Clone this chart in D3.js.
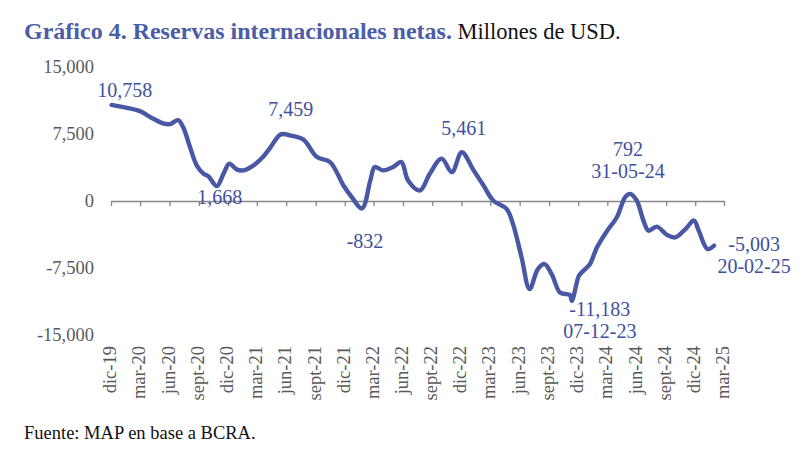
<!DOCTYPE html>
<html>
<head>
<meta charset="utf-8">
<script src="https://cdn.jsdelivr.net/npm/d3@7"></script>
<style>
  body { margin: 0; background: #fff; }
  svg { display: block; }
</style>
</head>
<body>
<div class="chart-div"></div>
<script>
//--------------------------- Data

var dates = [
  "2019-12-03", "2020-02-20", "2020-03-05", "2020-04-10", "2020-05-12", "2020-06-02", "2020-06-28",
  "2020-07-13", "2020-08-04", "2020-08-25", "2020-09-15", "2020-10-01", "2020-10-27", "2020-11-17",
  "2020-12-05", "2020-12-28", "2021-01-18", "2021-02-19", "2021-03-20", "2021-04-10", "2021-05-15",
  "2021-06-12", "2021-07-24", "2021-09-05", "2021-10-16", "2021-11-27", "2021-12-23", "2022-01-24",
  "2022-02-19", "2022-03-05", "2022-03-31", "2022-05-01", "2022-05-27", "2022-06-17", "2022-07-24",
  "2022-08-24", "2022-09-30", "2022-11-01", "2022-12-02", "2023-01-08", "2023-02-08", "2023-03-10",
  "2023-04-21", "2023-05-11", "2023-06-07", "2023-07-02", "2023-07-28", "2023-08-18", "2023-09-09",
  "2023-10-05", "2023-10-26", "2023-11-05", "2023-11-11", "2023-12-01", "2023-12-07", "2023-12-28",
  "2024-01-07", "2024-01-29", "2024-03-01", "2024-03-31", "2024-04-26", "2024-05-11", "2024-06-01",
  "2024-06-22", "2024-07-08", "2024-08-03", "2024-09-04", "2024-09-30", "2024-11-01", "2024-11-27",
  "2024-12-12", "2025-01-08", "2025-01-29"
];

var reserves = [
  10758, 10170, 9980, 9240, 8680, 8600, 9050,
  8300, 6050, 3990, 3060, 2750, 1668, 3060,
  4180, 3540, 3430, 3990, 4920, 5870, 7459,
  7350, 6900, 4920, 4360, 1740, 430, -832,
  2300, 3800, 3430, 3800, 4360, 2300, 1180,
  3060, 4740, 3240, 5461, 3430, 1740, 60,
  -880, -2560, -6320, -9870, -7620, -7060, -8180,
  -10250, -10430, -10510, -11183, -8560, -8180, -7440,
  -7060, -5190, -3320, -1820, 430, 792, 60,
  -2190, -3320, -2870, -3800, -4070, -3120, -2190,
  -3320, -5370, -5003
];

var tickDates = [
  "2019-12-01", "2020-03-01", "2020-06-01", "2020-09-01", "2020-12-01", "2021-03-01", "2021-06-01",
  "2021-09-01", "2021-12-01", "2022-03-01", "2022-06-01", "2022-09-01", "2022-12-01", "2023-03-01",
  "2023-06-01", "2023-09-01", "2023-12-01", "2024-03-01", "2024-06-01", "2024-09-01", "2024-12-01",
  "2025-03-01"
];
var tickLabels = [
  "dic-19", "mar-20", "jun-20", "sept-20", "dic-20", "mar-21", "jun-21",
  "sept-21", "dic-21", "mar-22", "jun-22", "sept-22", "dic-22", "mar-23",
  "jun-23", "sept-23", "dic-23", "mar-24", "jun-24", "sept-24", "dic-24",
  "mar-25"
];

var yTicks = [-15000, -7500, 0, 7500, 15000];

// highlighted points: index into the series, date text under the value
var highlightIndex = [0, 12, 20, 27, 38, 61, 52, 72];
var highlightDate  = ["", "", "", "", "", "31-05-24", "07-12-23", "20-02-25"];

//--------------------------- SVG definition

var width = 800;
var height = 461;

var svg = d3.select("div.chart-div")
  .append("svg")
  .attr("width", width)
  .attr("height", height);

var parse = d3.timeParse("%Y-%m-%d");
var fmt = d3.formatLocale({ decimal: ".", thousands: ",", grouping: [3], currency: ["$", ""], minus: "-" }).format(",");

var blue = "#4858a4";
var labelBlue = "#3e51a0";
var grey = "#595959";
var serif = "'Liberation Serif', 'DejaVu Serif', serif";

//--------------------------- Scales

var x = d3.scaleTime()
  .domain([parse("2019-12-01"), parse("2025-03-01")])
  .range([111, 724]);

var y = d3.scaleLinear()
  .domain([-15000, 15000])
  .range([335, 67]);

//--------------------------- Title

var title = svg.append("text")
  .attr("x", 24)
  .attr("y", 39)
  .attr("font-family", serif)
  .attr("font-size", 24);

title.append("tspan")
  .attr("font-weight", "bold")
  .attr("fill", "#4a5da6")
  .text("Gráfico 4. Reservas internacionales netas.");

title.append("tspan")
  .attr("fill", "#111")
  .attr("font-size", 22.5)
  .text(" Millones de USD.");

//--------------------------- Y axis (labels only)

var yAxis = svg.append("g")
  .attr("transform", "translate(94,0)")
  .call(d3.axisLeft(y).tickValues(yTicks).tickSize(0).tickPadding(0).tickFormat(fmt));

yAxis.select(".domain").remove();
yAxis.selectAll("text")
  .attr("font-family", serif)
  .attr("font-size", 18.5)
  .attr("fill", grey);

//--------------------------- X axis at zero

var xAxis = svg.append("g")
  .attr("transform", "translate(0," + y(0) + ")")
  .call(d3.axisBottom(x).tickValues(tickDates.map(parse)).tickSize(5).tickSizeOuter(0).tickFormat(""));

xAxis.select(".domain").attr("stroke", "#868686").attr("stroke-width", 1.3);
xAxis.selectAll(".tick line").attr("stroke", "#868686").attr("stroke-width", 1.3);

//--------------------------- X tick labels at the bottom, rotated

svg.append("g").selectAll("text")
  .data(tickDates)
  .enter()
  .append("text")
  .attr("transform", function (d) { return "translate(" + (x(parse(d)) + 5) + ",346) rotate(-90)"; })
  .attr("text-anchor", "end")
  .attr("font-family", serif)
  .attr("font-size", 18.5)
  .attr("fill", grey)
  .text(function (d, i) { return tickLabels[i]; });

//--------------------------- Line

var points = dates.map(function (d, i) { return [parse(d), reserves[i]]; });

var line = d3.line()
  .x(function (d) { return x(d[0]); })
  .y(function (d) { return y(d[1]); })
  .curve(d3.curveCatmullRom.alpha(0.5));

svg.append("path")
  .datum(points)
  .attr("d", line)
  .attr("fill", "none")
  .attr("stroke", blue)
  .attr("stroke-width", 4.4)
  .attr("stroke-linecap", "round")
  .attr("stroke-linejoin", "round");

//--------------------------- Highlight labels

var labelOffset = [[13, -15], [3, 11], [10, -25], [3, 33], [2, -24], [-2, -45], [28, 8], [40, -2]];

var labels = svg.append("g")
  .attr("font-family", serif)
  .attr("font-size", 20)
  .attr("fill", labelBlue)
  .attr("text-anchor", "middle");

highlightIndex.forEach(function (idx, k) {
  var px = x(points[idx][0]) + labelOffset[k][0];
  var py = y(points[idx][1]) + labelOffset[k][1];
  labels.append("text")
    .attr("x", px)
    .attr("y", py)
    .attr("dy", "0.35em")
    .text(fmt(reserves[idx]));
  if (highlightDate[k] != "") {
    labels.append("text")
      .attr("x", px)
      .attr("y", py + 22)
      .attr("dy", "0.35em")
      .text(highlightDate[k]);
  }
});

//--------------------------- Source

svg.append("text")
  .attr("x", 24)
  .attr("y", 439)
  .attr("font-family", serif)
  .attr("font-size", 18.5)
  .attr("fill", "#111")
  .text("Fuente: MAP en base a BCRA.");
</script>
</body>
</html>
